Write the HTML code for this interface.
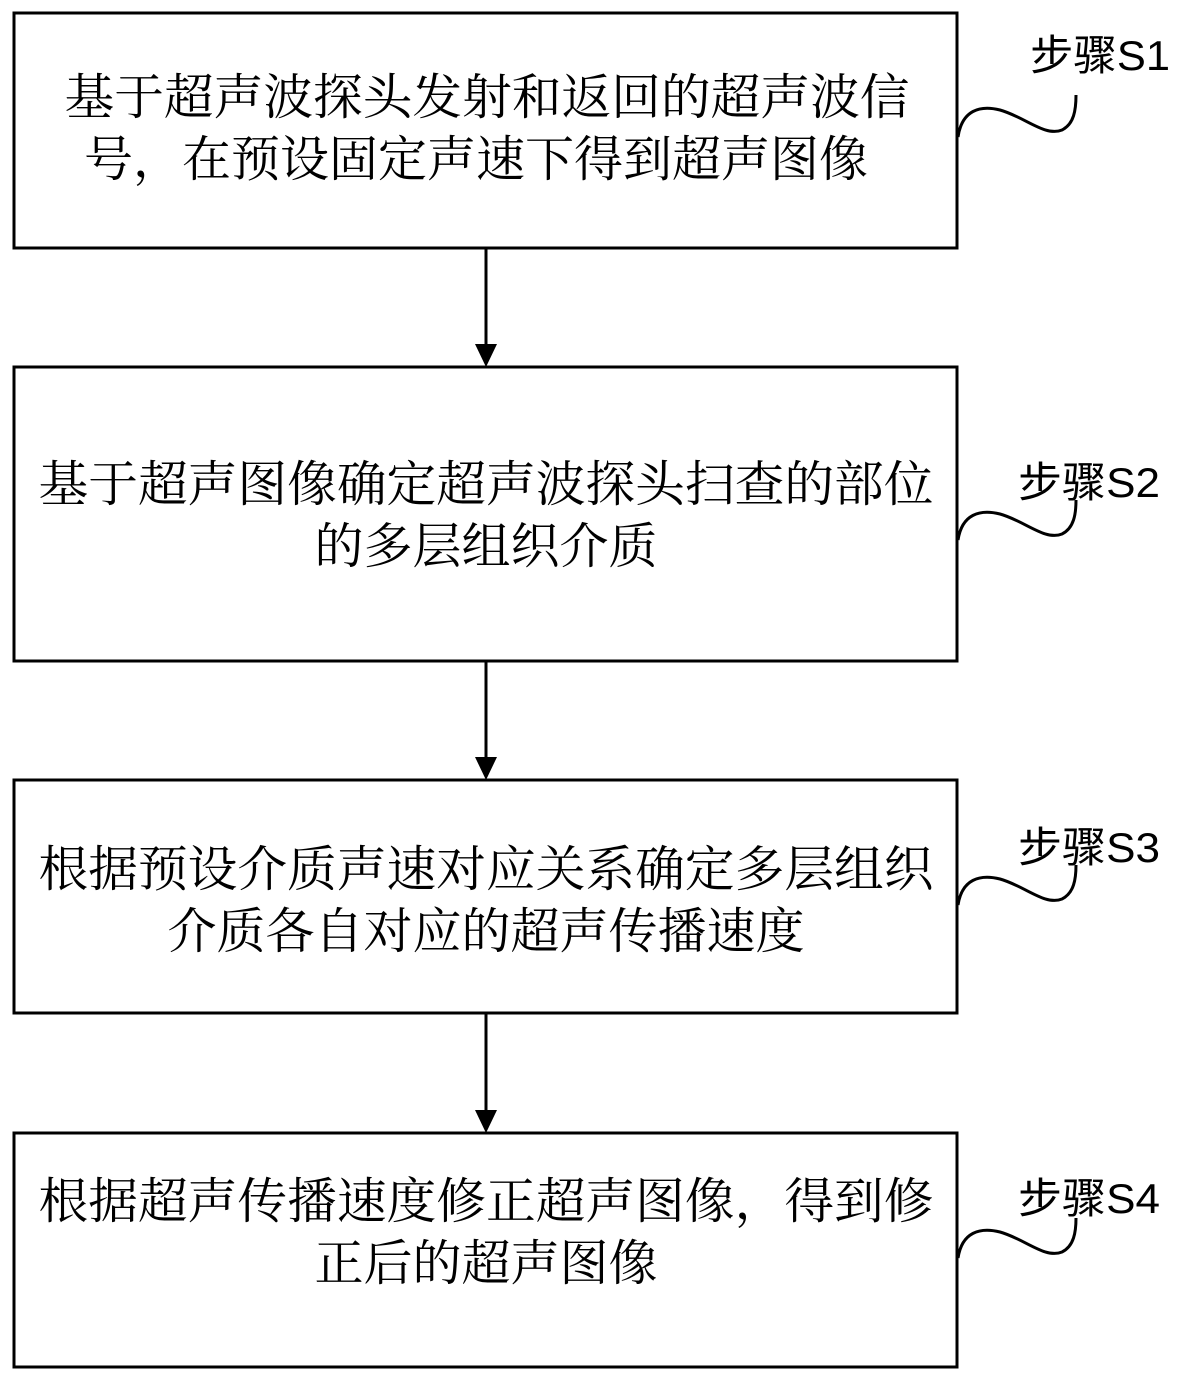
<!DOCTYPE html>
<html><head><meta charset="utf-8"><style>
body{margin:0;background:#fff;}
svg{display:block}
.t{font-family:"Noto Serif CJK SC","Liberation Serif",serif;font-size:49px;fill:#000}
.l{font-family:"Liberation Sans","Noto Sans CJK SC",sans-serif;font-size:42px;fill:#000}
</style></head><body>
<svg width="1185" height="1383" viewBox="0 0 1185 1383" xmlns="http://www.w3.org/2000/svg">
<g fill="none" stroke="#000" stroke-width="3">
<rect x="14" y="13" width="943" height="235"/>
<rect x="14" y="367" width="943" height="294"/>
<rect x="14" y="780" width="943" height="233"/>
<rect x="14" y="1133" width="943" height="234"/>
</g>
<g stroke="#000" stroke-width="3">
<line x1="486" y1="248" x2="486" y2="348"/>
<line x1="486" y1="661" x2="486" y2="761"/>
<line x1="486" y1="1013" x2="486" y2="1114"/>
</g>
<g fill="#000">
<path d="M475,344 L497,344 L486,367 z"/>
<path d="M475,757 L497,757 L486,780 z"/>
<path d="M475,1110 L497,1110 L486,1133 z"/>
</g>
<g fill="none" stroke="#000" stroke-width="3">
<path d="M958,137 C962,110 980,105 1000,110 C1025,117 1045,137 1062,130 C1074,124 1076,110 1076,95"/>
<path d="M958,540 C962,514 980,509 1000,514 C1025,521 1045,541 1062,534 C1074,528 1076,514 1076,500"/>
<path d="M958,905 C962,879 980,874 1000,879 C1025,886 1045,906 1062,899 C1074,893 1076,879 1076,865"/>
<path d="M958,1258 C962,1232 980,1227 1000,1232 C1025,1239 1045,1259 1062,1252 C1074,1246 1076,1232 1076,1218"/>
</g>
<text class="l" x="1030" y="70" textLength="140" lengthAdjust="spacingAndGlyphs">步骤S1</text>
<text class="l" x="1018" y="497" textLength="142" lengthAdjust="spacingAndGlyphs">步骤S2</text>
<text class="l" x="1018" y="862" textLength="142" lengthAdjust="spacingAndGlyphs">步骤S3</text>
<text class="l" x="1018" y="1213" textLength="142" lengthAdjust="spacingAndGlyphs">步骤S4</text>
<g class="t" text-anchor="middle">
<text x="487" y="114" textLength="845" lengthAdjust="spacingAndGlyphs">基于超声波探头发射和返回的超声波信</text>
<text x="476" y="176">号，在预设固定声速下得到超声图像</text>
<text x="486" y="501" textLength="895" lengthAdjust="spacingAndGlyphs">基于超声图像确定超声波探头扫查的部位</text>
<text x="486" y="563">的多层组织介质</text>
<text x="486" y="886" textLength="895" lengthAdjust="spacingAndGlyphs">根据预设介质声速对应关系确定多层组织</text>
<text x="486" y="948">介质各自对应的超声传播速度</text>
<text x="486" y="1218" textLength="895" lengthAdjust="spacingAndGlyphs">根据超声传播速度修正超声图像，得到修</text>
<text x="486" y="1280">正后的超声图像</text>
</g>
</svg>
</body></html>
